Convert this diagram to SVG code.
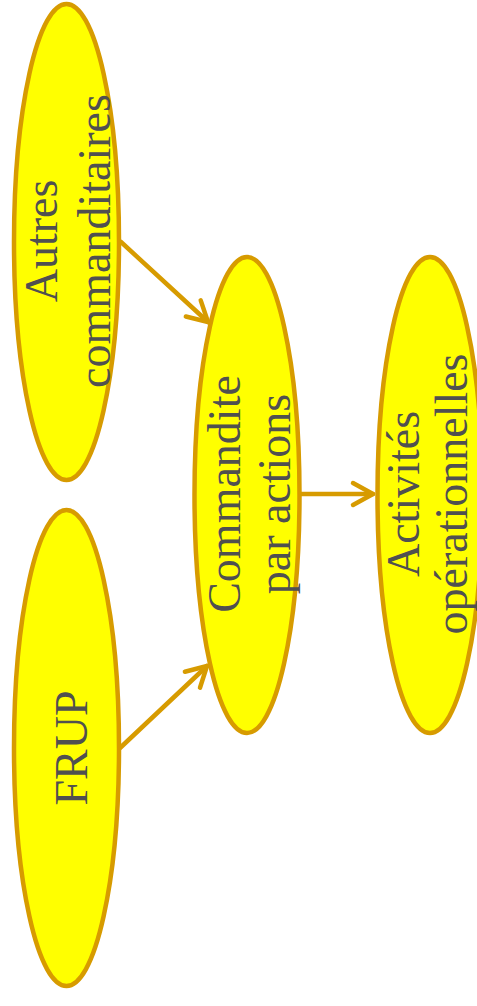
<svg xmlns="http://www.w3.org/2000/svg" width="477" height="1006" viewBox="0 0 477 1006">
<style>
.node{fill:#FFFF00;stroke:#D79B00;stroke-width:4.5}
.lbl{font-family:"Liberation Serif","Times New Roman",serif;font-size:46px;fill:#505050;text-anchor:middle}
.edge{fill:none;stroke:#D79B00;stroke-width:4.5;stroke-linecap:round}
</style>
<defs>
<marker id="arr" markerUnits="userSpaceOnUse" markerWidth="30" markerHeight="30" viewBox="-25 -15 30 30" refX="0" refY="0" orient="auto" overflow="visible">
<path d="M-20,-11 L0,0 L-20,11" fill="none" stroke="#D79B00" stroke-width="4.5" stroke-linecap="round" stroke-linejoin="round"/>
</marker>
</defs>
<g id="connectors">
<line class="edge" x1="121" y1="242" x2="208" y2="322" marker-end="url(#arr)"/>
<line class="edge" x1="120" y1="748" x2="207" y2="666" marker-end="url(#arr)"/>
<line class="edge" x1="301" y1="494" x2="373" y2="494" marker-end="url(#arr)"/>
</g>
<g id="node-autres">
<ellipse class="node" cx="66.5" cy="242" rx="52.5" ry="238"/>
<text class="lbl" transform="translate(66.5,241) rotate(-90)"><tspan x="0" y="-9.5">Autres</tspan><tspan x="0" y="43.5">commanditaires</tspan></text>
</g>
<g id="node-frup">
<ellipse class="node" cx="66.5" cy="748" rx="52.5" ry="238"/>
<text class="lbl" transform="translate(66.5,748) rotate(-90)"><tspan x="0" y="20">FRUP</tspan></text>
</g>
<g id="node-commandite">
<ellipse class="node" cx="247" cy="495" rx="52.5" ry="238"/>
<text class="lbl" transform="translate(247,494) rotate(-90)"><tspan x="0" y="-7">Commandite</tspan><tspan x="0" y="43">par actions</tspan></text>
</g>
<g id="node-activites">
<ellipse class="node" cx="430" cy="495" rx="52.5" ry="238"/>
<text class="lbl" transform="translate(430,494) rotate(-90)"><tspan x="0" y="-11">Activités</tspan><tspan x="0" y="37">opérationnelles</tspan></text>
</g>
</svg>
